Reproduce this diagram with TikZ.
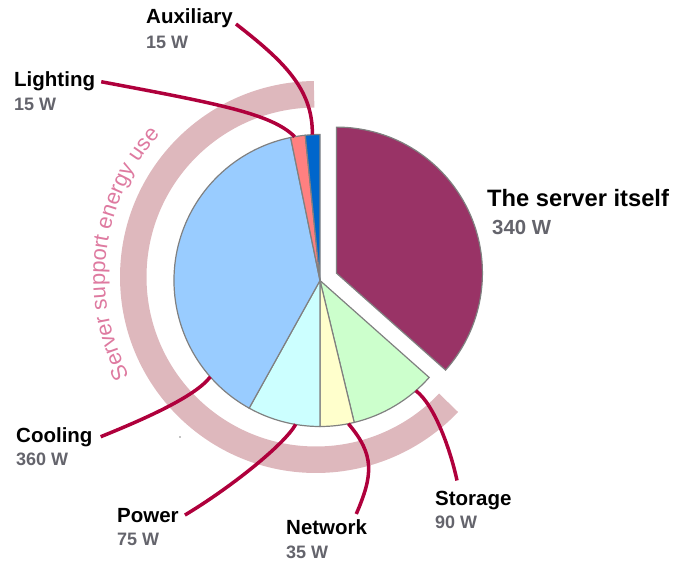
\documentclass[tikz,border=0pt]{standalone}
\usepackage{fontspec}
\setmainfont{Liberation Sans}
\usepackage{xcolor}
\usepackage{tikz}
\usetikzlibrary{calc,positioning,decorations.text}

\definecolor{server}{RGB}{153,51,102}
\definecolor{storage}{RGB}{204,255,204}
\definecolor{network}{RGB}{255,255,204}
\definecolor{power}{RGB}{204,255,255}
\definecolor{cooling}{RGB}{153,204,255}
\definecolor{lighting}{RGB}{255,128,128}
\definecolor{auxil}{RGB}{0,102,204}
\definecolor{sliceline}{RGB}{128,128,128}
\definecolor{ringpink}{RGB}{222,184,189}
\definecolor{ringtext}{RGB}{222,122,160}
\definecolor{leadred}{RGB}{175,0,60}
\definecolor{valgray}{RGB}{100,100,108}

\newcommand\ringfont{\fontsize{22}{25}\selectfont}

\tikzset{
  slice/.style={draw=sliceline,line width=1.2pt},
  leader/.style={draw=leadred,line width=3.5pt},
  lbl/.style={inner sep=0pt,anchor=base west,font=\bfseries\fontsize{20.5}{24}\selectfont},
  val/.style={inner sep=0pt,anchor=base west,text=valgray,font=\bfseries\fontsize{18}{21}\selectfont},
}

\begin{document}
\begin{tikzpicture}[x=1pt,y=1pt]
\useasboundingbox (0,0) rectangle (674,-561);
\coordinate (O) at (320,-280.5); % pie centre
\coordinate (B) at (316,-277);   % ring centre

% support ring and its caption
\draw[line width=26.5pt,ringpink] ($(B)+(90.6:182.75pt)$) arc[start angle=90.6,end angle=316.5,radius=182.75pt];
\path[decorate,decoration={text along path,text color=ringtext,
  text={|\ringfont|Server support energy use}}]
  ($(B)+(208:211pt)$) arc[start angle=208,end angle=128,radius=211pt];

% pie: 930 W in total
\foreach \s/\e/\c in {-41.61/-76.45/storage,-76.45/-90/network,-90/-119.03/power,
  -119.03/-258.39/cooling,101.61/95.81/lighting,95.81/90/auxil}
  \filldraw[slice,fill=\c] (O) -- ++(\s:146pt) arc[start angle=\s,end angle=\e,radius=146pt] -- cycle;
\filldraw[slice,fill=server] ([shift={(24.19:18pt)}]O) -- ++(90:146pt)
  arc[start angle=90,end angle=-41.61,radius=146pt] -- cycle;

\coordinate (pAux) at ($(O)+(93:146pt)$);
\coordinate (pLig) at ($(O)+(100:146pt)$);
\coordinate (pCool) at ($(O)+(221.3:146pt)$);
\coordinate (pPow) at ($(O)+(260.4:146pt)$);
\coordinate (pNet) at ($(O)+(281.2:146pt)$);
\coordinate (pSto) at ($(O)+(311:146pt)$);

% labels
\node[lbl] (auxN) at (146,-24) {Auxiliary};
\node[val] (auxV) at (146,-49) {15 W};
\node[lbl] (ligN) at (14,-87) {Lighting};
\node[val] (ligV) at (14,-111) {15 W};
\node[lbl,font=\bfseries\fontsize{23.7}{27}\selectfont] (srvN) at (487,-207) {The server itself};
\node[val,font=\bfseries\fontsize{20.4}{24}\selectfont] (srvV) at (492,-235) {340 W};
\node[lbl] (coolN) at (16,-442) {Cooling};
\node[val] (coolV) at (16,-465) {360 W};
\node[lbl] (powN) at (117,-522) {Power};
\node[val] (powV) at (117,-545) {75 W};
\node[lbl] (netN) at (286,-534) {Network};
\node[val] (netV) at (286,-558) {35 W};
\node[lbl] (stoN) at (435,-505) {Storage};
\node[val] (stoV) at (435,-528) {90 W};

% leader lines
\draw[leader] ([xshift=3pt]auxN.base east) .. controls (282,-60) and (313,-88) .. (pAux);
\draw[leader] ([xshift=6pt]ligN.east) .. controls (220,-104) and (272,-114) .. (pLig);
\draw[leader] ([xshift=8pt]coolN.east) .. controls (142,-420) and (195,-397) .. (pCool);
\draw[leader] ([xshift=6pt]powN.east) .. controls (230,-488) and (284,-445) .. (pPow);
\draw[leader] ([xshift=-11pt,yshift=5pt]netN.north east) .. controls (373,-475) and (375,-455) .. (pNet);
\draw[leader] ([xshift=22pt,yshift=10pt]stoN.north west) .. controls (451,-452) and (435,-405) .. (pSto);

\fill (180,-437) circle (0.6pt);
\end{tikzpicture}
\end{document}
